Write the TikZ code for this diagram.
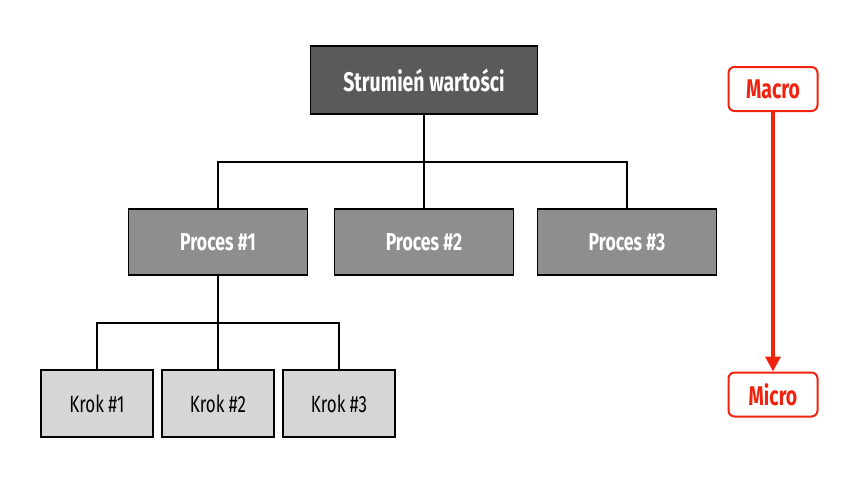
\documentclass[tikz,border=0pt]{standalone}
\usepackage{fontspec}
\setmainfont{Fira Sans}[FakeStretch=0.72]
\usepackage{tikz}
\usetikzlibrary{arrows.meta}
\definecolor{streamgray}{HTML}{5A5A5A}
\definecolor{processgray}{HTML}{8E8E8E}
\definecolor{stepgray}{HTML}{D6D6D6}
\definecolor{scalered}{HTML}{F0230F}

\begin{document}
\begin{tikzpicture}[x=1pt,y=-1pt,
  box/.style={draw=black,line width=1.6pt,inner sep=0pt,anchor=center},
  streambox/.style={box,fill=streamgray,text=white,font=\fontsize{27}{30}\selectfont\bfseries,minimum width=227pt,minimum height=68pt},
  processbox/.style={box,fill=processgray,text=white,font=\fontsize{24.5}{28}\selectfont\bfseries,minimum width=179pt,minimum height=66pt},
  stepbox/.style={box,fill=stepgray,text=black,font=\fontsize{23.5}{27}\selectfont,minimum width=112pt,minimum height=67pt},
  scalebox/.style={draw=scalered,line width=2pt,rounded corners=6pt,fill=white,text=scalered,font=\fontsize{27}{30}\selectfont\bfseries,minimum width=89pt,minimum height=44pt,inner sep=0pt},
  link/.style={line width=1.6pt}]
\useasboundingbox (0,0) rectangle (863,485);
% Value stream on top
\node[streambox] (stream) at (424,80) {Strumień wartości};
% Processes
\foreach \n/\x in {1/218, 2/424, 3/627} {
    \node[processbox] (proc\n) at (\x,242) {Proces \#\n};
}
% Steps below the first process
\foreach \n/\x in {1/97, 2/218, 3/339} {
    \node[stepbox] (step\n) at (\x,403.5) {Krok \#\n};
}
% Tree connectors
\coordinate (busA) at (424,162);
\coordinate (busB) at (218,323);
\draw[link] (stream.south) -- (proc2.north);
\draw[link] (proc1.north) -- (proc1.north |- busA) -- (proc3.north |- busA) -- (proc3.north);
\draw[link] (proc1.south) -- (step2.north);
\draw[link] (step1.north) -- (step1.north |- busB) -- (step3.north |- busB) -- (step3.north);
% Macro to micro scale
\node[scalebox] (macro) at (773,89) {Macro};
\node[scalebox] (micro) at (773,394.5) {Micro};
\draw[scalered,line width=3.5pt,-{Triangle[length=15pt,width=15pt]}] (macro.south) -- (micro.north);
\end{tikzpicture}
\end{document}
